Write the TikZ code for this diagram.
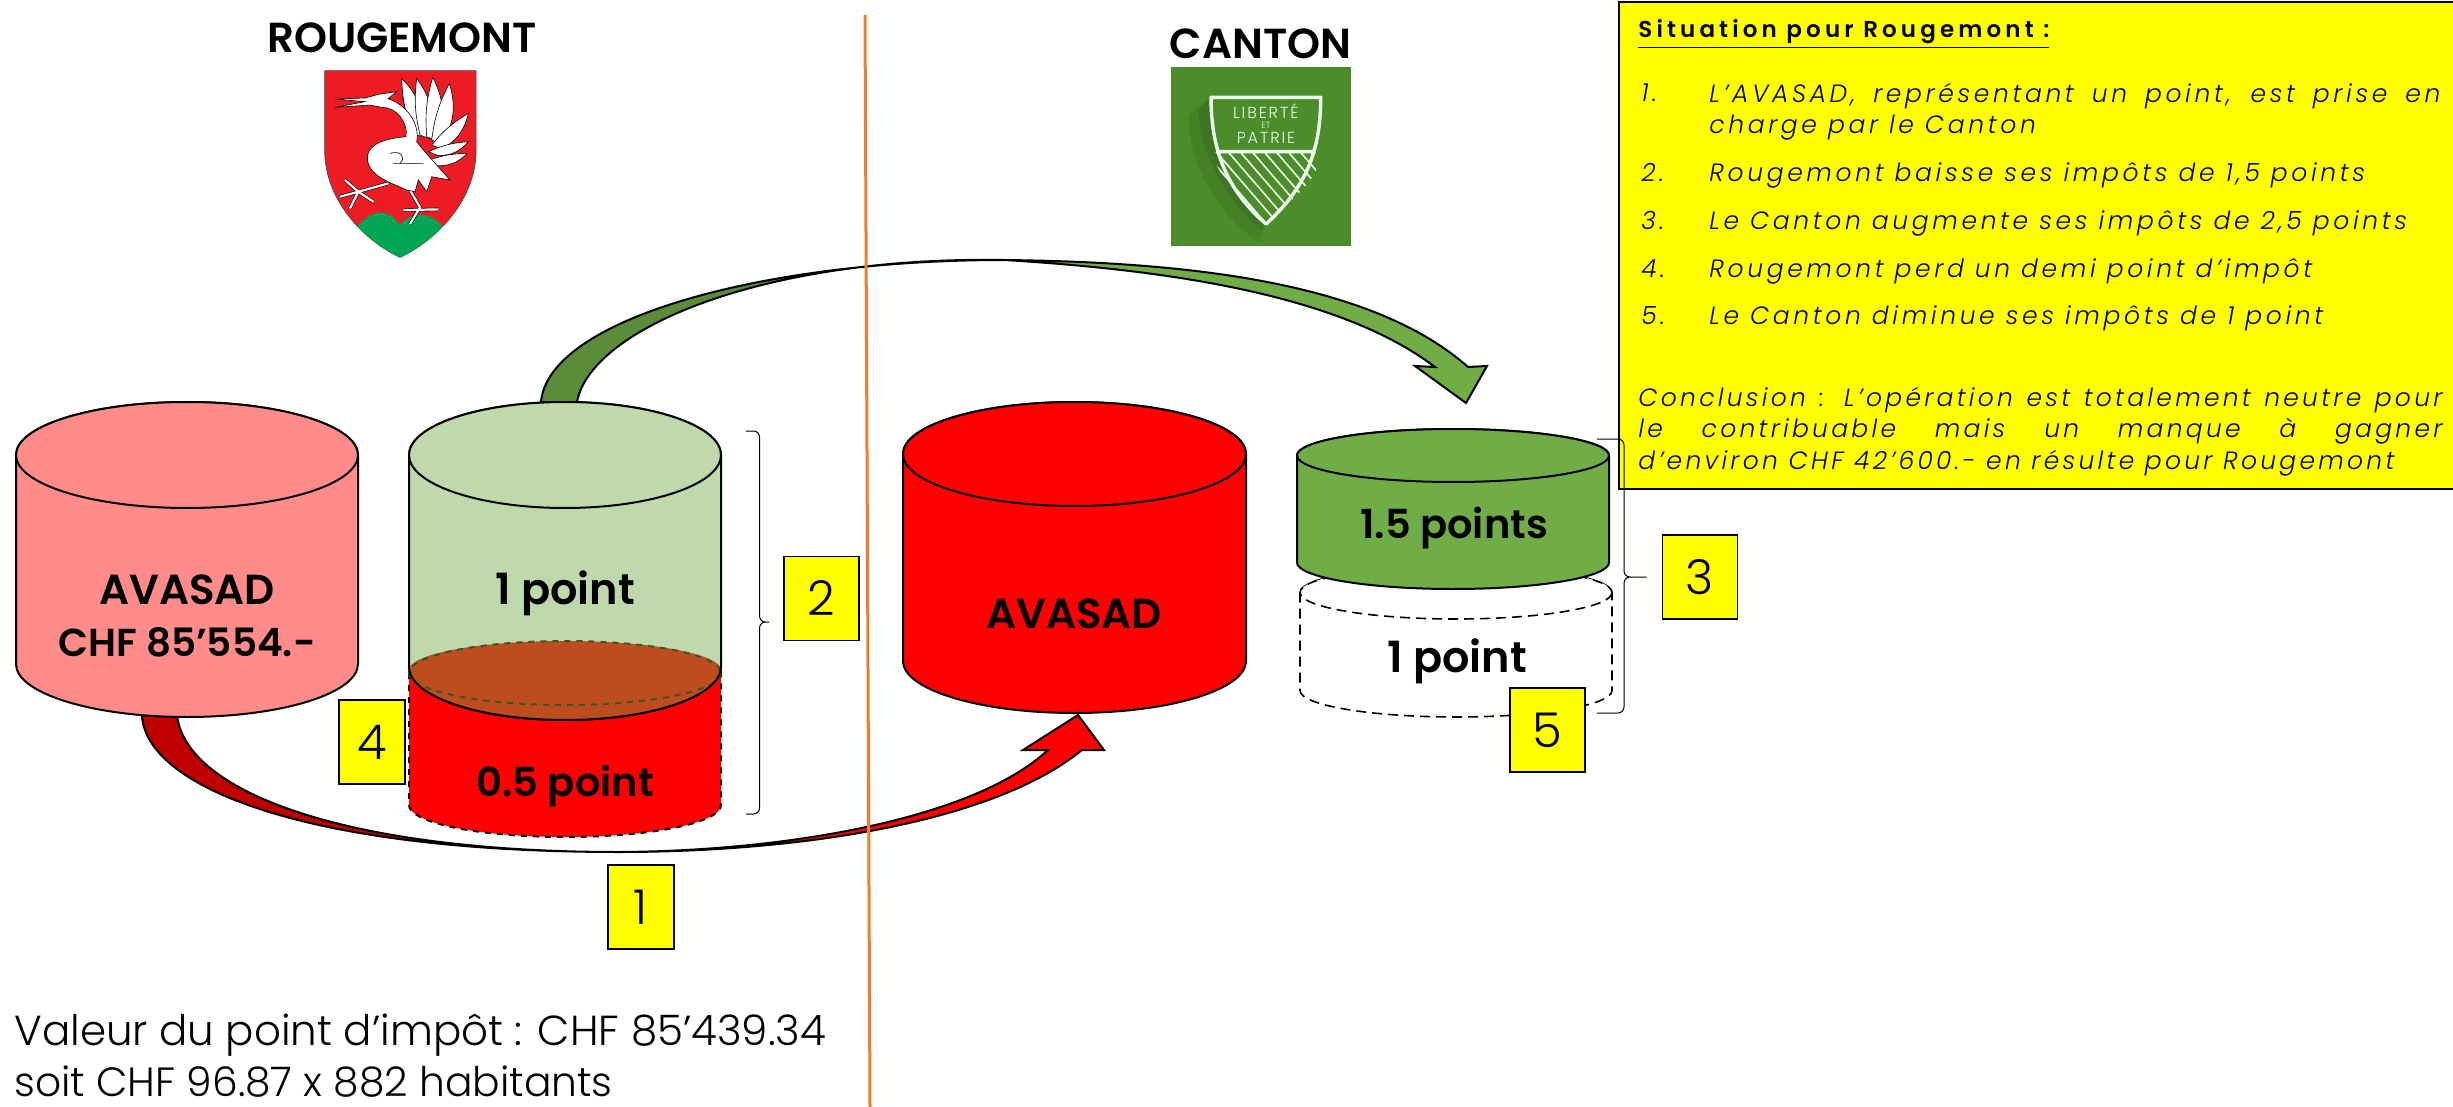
\documentclass[tikz,border=0pt]{standalone}
\usepackage{fontspec}
\setmainfont{Poppins}[UprightFont=*-Light,ItalicFont=*-LightItalic,BoldFont=*-SemiBold,BoldItalicFont=*-SemiBoldItalic]
\usetikzlibrary{positioning}
\definecolor{myyellow}{RGB}{255,255,0}
\definecolor{myred}{RGB}{255,0,0}
\definecolor{mydarkred}{RGB}{192,0,0}
\definecolor{mypink}{RGB}{255,139,139}
\definecolor{mypale}{RGB}{191,217,173}
\definecolor{mygreen}{RGB}{112,173,71}
\definecolor{mydarkgreen}{RGB}{91,140,57}
\definecolor{mybrown}{RGB}{189,77,31}
\definecolor{myolive}{RGB}{55,86,35}
\definecolor{myorange}{RGB}{237,125,49}
\definecolor{myshield}{RGB}{237,28,36}
\definecolor{myhill}{RGB}{0,166,81}
\definecolor{mylogo}{RGB}{76,140,43}
\definecolor{mylogoshadow}{RGB}{62,116,36}
\definecolor{mylogosoft}{RGB}{69,128,39}
\newcommand{\boxfont}{\fontsize{12.5}{15.75}\selectfont\itshape\addfontfeature{LetterSpace=14.5}}
\newcommand{\concfont}{\fontsize{12.5}{15.75}\selectfont\itshape\addfontfeature{LetterSpace=13}}
% style, centre x, radius x, y of the upper end, y of the lower end, radius y
\newcommand{\mycylinder}[6]{
  \path[#1] (#2-#3,#4) -- (#2-#3,#5) arc[start angle=180, end angle=0, x radius=#3, y radius=#6]
    -- (#2+#3,#4) arc[start angle=0, end angle=-180, x radius=#3, y radius=#6] -- cycle;
  \path[#1] (#2,#4) ellipse (#3 and #6);
}

\begin{document}
\begin{tikzpicture}[
  x=0.5pt,
  y=-0.5pt,
  mycyl/.style={draw=black, line width=1pt, fill=#1},
  mytext/.style={font=\fontsize{20}{25}\selectfont\bfseries, inner sep=0pt, align=center},
  mytitle/.style={font=\fontsize{21}{24}\selectfont\bfseries, inner sep=0pt},
  numbox/.style={
    draw,
    line width=0.6pt,
    fill=myyellow,
    inner sep=0pt,
    minimum width=#1,
    minimum height=42pt,
    font=\fontsize{24}{28}\selectfont
  },
  myarrow/.style={draw=black, line width=1pt, fill=#1, line join=miter},
  mybrace/.style={draw, line width=0.5pt, rounded corners=3pt},
  boxtext/.style={font=\boxfont, inner sep=0pt, anchor=base west},
  logotext/.style={text=white!90!green, inner sep=0pt, anchor=base},
  feather/.style={draw=black, line width=0.3pt, fill=white},
  birdleg/.style={draw=black, line width=0.3pt, double=white, double distance=1.1pt}
]
\useasboundingbox (0,0) rectangle (2453,1107);

% red arrow
\path[myarrow=mydarkred] (142,715) .. controls (145,785) and (300,852) .. (619,852)
  .. controls (340,852) and (185,790) .. (177,715) -- cycle;
\path[myarrow=myred] (619,852) .. controls (790,852) and (990,825) .. (1082,750)
  -- (1104,750) -- (1078,715) -- (1023,750) -- (1048,750)
  .. controls (975,818) and (790,851) .. (619,852) -- cycle;

% green arrow
\path[myarrow=mydarkgreen] (541,402) .. controls (548,320) and (760,260) .. (1004,260)
  .. controls (760,256) and (590,330) .. (577,402) -- cycle;
\path[myarrow=mygreen] (1004,260) .. controls (1180,262) and (1370,280) .. (1468,367)
  -- (1487,366) -- (1466,403) -- (1415,366) -- (1435,367)
  .. controls (1340,295) and (1170,270) .. (1004,260) -- cycle;

% cylinders
\mycylinder{mycyl=mypink}{187}{171}{455}{664}{53}
\mycylinder{mycyl=myred, dashed}{565}{156}{673}{805}{32}
\mycylinder{mycyl=mypale}{565}{156}{455}{667}{53}
\fill[mybrown] (409,670) arc[start angle=180, end angle=360, x radius=156, y radius=29]
  arc[start angle=0, end angle=180, x radius=156, y radius=50] -- cycle;
\draw[myolive, dashed, line width=1pt] (565,673) ellipse (156 and 32);
\draw[line width=1pt] (409,667) arc[start angle=180, end angle=0, x radius=156, y radius=53];
\mycylinder{mycyl=white, line width=0.8pt, dash pattern=on 5pt off 3pt}{1456}{156}{592.5}{690.5}{26.5}
\mycylinder{mycyl=myred}{1074.5}{171.5}{454}{661}{52}
\mycylinder{mycyl=mygreen}{1453}{156}{455.5}{562.5}{26.5}

% labels of the cylinders
\node[mytext] (labelA) at (187,616) {{\fontsize{21}{25}\selectfont AVASAD}\\[1pt]{\fontsize{19.5}{25}\selectfont CHF 85’554.-}};
\node[mytext, font=\fontsize{21.5}{25}\selectfont\bfseries] (labelone) at (565,593) {1 point};
\node[mytext] (labelhalf) at (565,786) {0.5 point};
\node[mytext, font=\fontsize{21}{25}\selectfont\bfseries] (labelB) at (1074,614) {AVASAD};
\node[mytext] (labelpts) at (1454,528) {1.5 points};
\node[mytext, font=\fontsize{21.5}{25}\selectfont\bfseries] (labelrem) at (1457,661) {1 point};

% titles
\node[mytitle] (rougemont) at (402,38) {ROUGEMONT};
\node[mytitle] (canton) at (1260.5,44) {CANTON};

% coat of arms
\begin{scope}[shift={(250,0)}, x=0.1667pt, y=-0.1667pt]
  \draw[fill=myshield, line width=0.4pt, draw=black!70] (224,212) -- (678,212) -- (678,450)
    .. controls (678,600) and (560,720) .. (450,772)
    .. controls (340,720) and (224,600) .. (224,450) -- cycle;
  \begin{scope}
    \clip (224,212) -- (678,212) -- (678,450)
      .. controls (678,600) and (560,720) .. (450,772)
      .. controls (340,720) and (224,600) .. (224,450) -- cycle;
    \fill[myhill] (300,720) .. controls (325,650) and (400,600) .. (450,675)
      .. controls (490,620) and (575,640) .. (600,720) -- (450,790) -- cycle;
  \end{scope}
  \draw[birdleg] (415,550) -- (325,575) (285,540) -- (325,575) -- (270,590) (325,575) -- (300,625) (325,575) -- (370,605);
  \draw[birdleg] (480,570) -- (510,622) (460,630) -- (565,628) (510,622) -- (480,672);
  \foreach \tipx/\tipy/\basex/\basey in {455/235/490/400, 500/235/510/405, 548/232/530/410, 598/250/545/420, 655/340/545/435, 655/425/535/455, 652/460/525/485}
    \draw[feather] (\basex,\basey) to[bend left=10] (\tipx,\tipy) to[bend left=24] (\basex+30,\basey+12) -- cycle;
  \draw[feather] (255,297) -- (345,294) -- (385,283) -- (440,275) -- (414,296)
    .. controls (470,315) and (510,370) .. (500,425) -- (520,450) -- (600,540) -- (545,530)
    -- (530,575) -- (505,540) -- (495,575) -- (470,570)
    .. controls (430,550) and (350,530) .. (352,470)
    .. controls (355,430) and (410,415) .. (468,410)
    .. controls (475,370) and (440,320) .. (395,322) -- (360,315) -- (255,322) -- (345,305) -- cycle;
  \draw[line width=0.3pt] (420,460) .. controls (450,450) and (470,470) .. (450,490) (430,490) -- (520,490);
\end{scope}

% logo of the canton
\begin{scope}[shift={(1130,0)}, x=0.1667pt, y=-0.1667pt]
  \fill[mylogo] (123,201) rectangle (663,737);
  \fill[mylogosoft] (243,292) -- (175,345) .. controls (175,500) and (270,650) .. (385,725) -- (408,672) -- cycle;
  \fill[mylogoshadow] (243,292) -- (205,330) .. controls (215,480) and (300,610) .. (395,690) -- (408,672) -- cycle;
  \fill[mylogo] (243,292) -- (572,292) .. controls (572,450) and (530,560) .. (408,672)
    .. controls (290,570) and (243,450) .. (243,292) -- cycle;
  \begin{scope}
    \clip (243,455) -- (572,455) .. controls (565,530) and (530,560) .. (408,672)
      .. controls (290,570) and (260,500) .. (243,455) -- cycle;
    \foreach \hatchx in {150,186,...,540}
      \draw[white!92!green, line width=0.8pt] (\hatchx,455) -- ++(250,290);
  \end{scope}
  \draw[white!92!green, line width=1.7pt, line join=round] (243,292) -- (572,292)
    .. controls (572,450) and (530,560) .. (408,672)
    .. controls (290,570) and (243,450) .. (243,292) -- cycle (258,455) -- (557,455);
  \node[logotext, font=\fontsize{8}{10}\selectfont\addfontfeature{LetterSpace=12}] (liberte) at (407,355) {LIBERTÉ};
  \node[logotext, font=\fontsize{4.5}{6}\selectfont] (et) at (408,385) {ET};
  \node[logotext, font=\fontsize{8}{10}\selectfont\addfontfeature{LetterSpace=12}] (patrie) at (408,430) {PATRIE};
\end{scope}

% yellow text box
\draw[fill=myyellow, line width=1pt] (1619,2) rectangle (2470,489);
\node[boxtext, font=\fontsize{11.5}{13}\selectfont\bfseries\addfontfeature{LetterSpace=18}] (situation) at (1638,38) {\underline{Situation pour Rougemont :}};
\node[boxtext] (numone) at (1641,102) {1.};
\node[font=\boxfont, inner sep=0pt, anchor=north west, text width=365.5pt, align=justify] (itemone) at (1709,80)
  {\strut L’AVASAD, représentant un point, est prise en\linebreak charge par le Canton};
\foreach \Valor/\Valory [count=\Valori from 2] in {{Rougemont baisse ses impôts de 1,5 points}/182, {Le Canton augmente ses impôts de 2,5 points}/230, {Rougemont perd un demi point d’impôt}/278, {Le Canton diminue ses impôts de 1 point}/325}{
  \node[boxtext] (num\Valori) at (1641,\Valory) {\Valori.};
  \node[boxtext] (item\Valori) at (1709,\Valory) {\Valor};
}
\node[font=\concfont, inner sep=0pt, anchor=north west, text width=402pt, align=justify] (conclusion) at (1638,384)
  {\strut Conclusion : L’opération est totalement neutre pour\linebreak le contribuable mais un manque à gagner\linebreak d’environ CHF 42’600.- en résulte pour Rougemont};

% braces
\draw[mybrace] (746,431) -- (759.5,431) -- (759.5,622) -- (773,622) -- (759.5,622) -- (759.5,814) -- (746,814);
\draw[mybrace] (1597,439) -- (1624,439) -- (1624,577) -- (1650,577) -- (1624,577) -- (1624,713) -- (1597,713);

% numbered boxes
\node[numbox=33pt] (boxone) at (641,907) {1};
\node[numbox=37.5pt] (boxtwo) at (821.5,598.5) {2};
\node[numbox=37.5pt] (boxthree) at (1700,577) {3};
\node[numbox=33pt] (boxfour) at (372,742) {4};
\node[numbox=37.5pt] (boxfive) at (1547.5,730) {5};

% separator
\coordinate (septop) at (865,15);
\coordinate (sepbot) at (870,1107);
\draw[myorange, line width=1.5pt] (septop) -- (sepbot);

% bottom text
\node[inner sep=0pt, anchor=base west, font=\fontsize{21}{25}\selectfont] (valeur) at (14,1045) {Valeur du point d’impôt : CHF 85’439.34};
\node[inner sep=0pt, anchor=base west, font=\fontsize{20.4}{25}\selectfont] (soit) at (14,1096) {soit CHF 96.87 x 882 habitants};
\end{tikzpicture}
\end{document}
